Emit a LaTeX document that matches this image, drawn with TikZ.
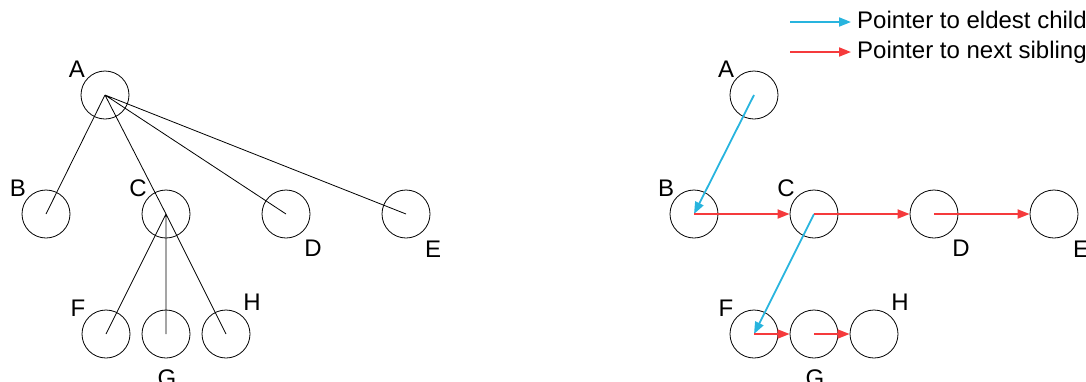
\documentclass[tikz,border=0pt]{standalone}
\usepackage{fontspec}
\setmainfont{Liberation Sans}
\usepackage{tikz}
\usetikzlibrary{arrows.meta}

\definecolor{childblue}{RGB}{40,180,222}
\definecolor{sibred}{RGB}{245,58,60}

\begin{document}
\begin{tikzpicture}[
  x=1pt,y=-1pt,
  vert/.style={circle,draw,minimum size=48pt,inner sep=0pt,line width=0.8pt},
  lbl/.style={inner sep=0pt,font=\fontsize{24}{28}\selectfont},
  child/.style={childblue,line width=1.8pt,-{Triangle[length=12pt,width=9pt]}},
  sib/.style={sibred,line width=1.8pt,-{Triangle[length=12pt,width=9pt]}}
]
  \useasboundingbox (0,0) rectangle (1086,381);

  % general tree
  \node[vert] (a) at (105,95)  {};
  \node[vert] (b) at (46,214)  {};
  \node[vert] (c) at (166,214) {};
  \node[vert] (d) at (286,214) {};
  \node[vert] (e) at (406,214) {};
  \node[vert] (f) at (106,334) {};
  \node[vert] (g) at (166,334) {};
  \node[vert] (h) at (226,334) {};

  \draw[line width=0.8pt] (a.center)--(b.center) (a.center)--(c.center)
    (a.center)--(d.center) (a.center)--(e.center);
  \draw[line width=0.8pt] (c.center)--(f.center) (c.center)--(g.center)
    (c.center)--(h.center);

  \node[lbl] (la) at (77,69)   {A};
  \node[lbl] (lb) at (18,188)  {B};
  \node[lbl] (lc) at (138,188) {C};
  \node[lbl] (ld) at (313,248) {D};
  \node[lbl] (le) at (433,249) {E};
  \node[lbl] (lf) at (78,308)  {F};
  \node[lbl] (lg) at (167,378) {G};
  \node[lbl] (lh) at (252,302) {H};

  % same tree, eldest child / next sibling
  \node[vert] (ra) at (754,95)  {};
  \node[vert] (rb) at (694,214) {};
  \node[vert] (rc) at (814,214) {};
  \node[vert] (rd) at (934,214) {};
  \node[vert] (re) at (1054,214) {};
  \node[vert] (rf) at (754,334) {};
  \node[vert] (rg) at (814,334) {};
  \node[vert] (rh) at (874,334) {};

  \draw[child] (ra.center)--(rb.center);
  \draw[child] (rc.center)--(rf.center);
  \draw[sib] (rb.center)--(rc);
  \draw[sib] (rc.center)--(rd);
  \draw[sib] (rd.center)--(re);
  \draw[sib] (rf.center)--(rg);
  \draw[sib] (rg.center)--(rh);

  \node[lbl] (rla) at (726,69)   {A};
  \node[lbl] (rlb) at (666,188)  {B};
  \node[lbl] (rlc) at (786,188)  {C};
  \node[lbl] (rld) at (961,248)  {D};
  \node[lbl] (rle) at (1081,249) {E};
  \node[lbl] (rlf) at (726,308)  {F};
  \node[lbl] (rlg) at (815,378)  {G};
  \node[lbl] (rlh) at (900,302)  {H};

  % legend
  \coordinate (k1) at (790,22);
  \coordinate (k1e) at (851,22);
  \coordinate (k2) at (790,52);
  \coordinate (k2e) at (851,52);
  \draw[child] (k1)--(k1e);
  \draw[sib] (k2)--(k2e);
  \node[lbl,anchor=base west] (kt1) at (857,28.3) {Pointer to eldest child};
  \node[lbl,anchor=base west] (kt2) at (857,58.3) {Pointer to next sibling};
\end{tikzpicture}
\end{document}
